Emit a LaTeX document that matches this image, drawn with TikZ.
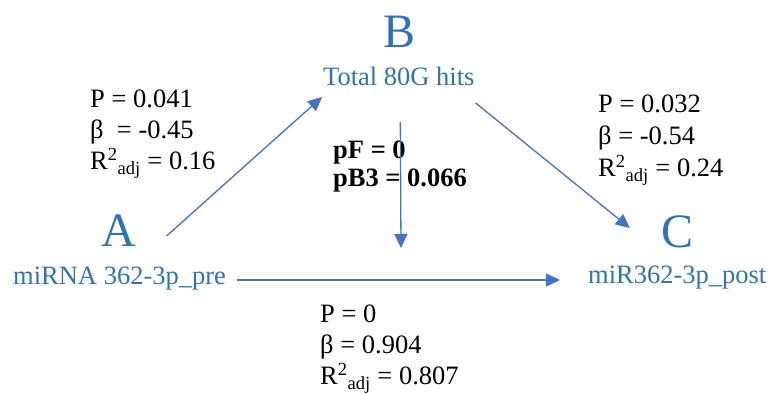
\documentclass[tikz,border=0pt]{standalone}
\usepackage{fontspec}
\setmainfont{Liberation Serif}
\usetikzlibrary{arrows.meta}

\definecolor{varblue}{HTML}{2E74B5}
\definecolor{linkblue}{HTML}{4472C4}

\begin{document}
\begin{tikzpicture}[x=1pt, y=-1pt,
	letter/.style={anchor=base, inner sep=0, text=varblue, font=\fontsize{48}{56}\selectfont},
	varname/.style={anchor=base west, inner sep=0, text=varblue, font=\fontsize{26.5}{31}\selectfont},
	stats/.style={anchor=north west, inner sep=0, align=left, font=\fontsize{26.5}{31}\selectfont},
	link/.style={draw=linkblue, line width=1.3pt, -{Triangle[length=14pt,width=13pt]}}]
		\useasboundingbox (0,0) rectangle (772,394);
		% variables
		\node (Bletter) at (400, 47) [letter] {B};
		\node (Btext) at (323, 85) [varname] {Total 80G hits};
		\node (Aletter) at (119, 246) [letter] {A};
		\node (Atext) at (13, 284) [varname] {miRNA 362-3p\_pre};
		\node (Cletter) at (678, 247) [letter] {C};
		\node (Ctext) at (588, 283) [varname] {miR362-3p\_post};
		% statistics
		\node (statsAB) at (90, 90) [stats] {P = 0.041\\ β~ = -0.45\\ R\textsuperscript{2}\textsubscript{adj} = 0.16};
		\node (statsBC) at (598, 95) [stats, font=\fontsize{26.5}{32}\selectfont] {P = 0.032\\ β = -0.54\\ R\textsuperscript{2}\textsubscript{adj} = 0.24};
		\node (statsAC) at (320, 305) [stats] {P = 0\\ β = 0.904\\ R\textsuperscript{2}\textsubscript{adj} = 0.807};
		\node (statsB) at (333, 141) [stats, font=\fontsize{26.5}{28}\selectfont\bfseries] {pF = 0\\ pB3 = 0.066};
		% paths
		\coordinate (mid) at (401, 248);
		\draw [link] ([xshift=30pt, yshift=10pt]Aletter.base east) -- ([xshift=-1pt, yshift=-12pt]Btext.base west);
		\draw [link] ([xshift=1pt, yshift=-18pt]Btext.base east) -- ([xshift=-32pt, yshift=19pt]Cletter.base west);
		\draw [link] ([xshift=1.5pt, yshift=-37pt]Btext.base) -- (mid);
		\draw [link] ([xshift=11pt, yshift=4pt]Atext.base east) -- ([xshift=-28pt, yshift=3pt]Ctext.base west);
	\end{tikzpicture}
\end{document}
